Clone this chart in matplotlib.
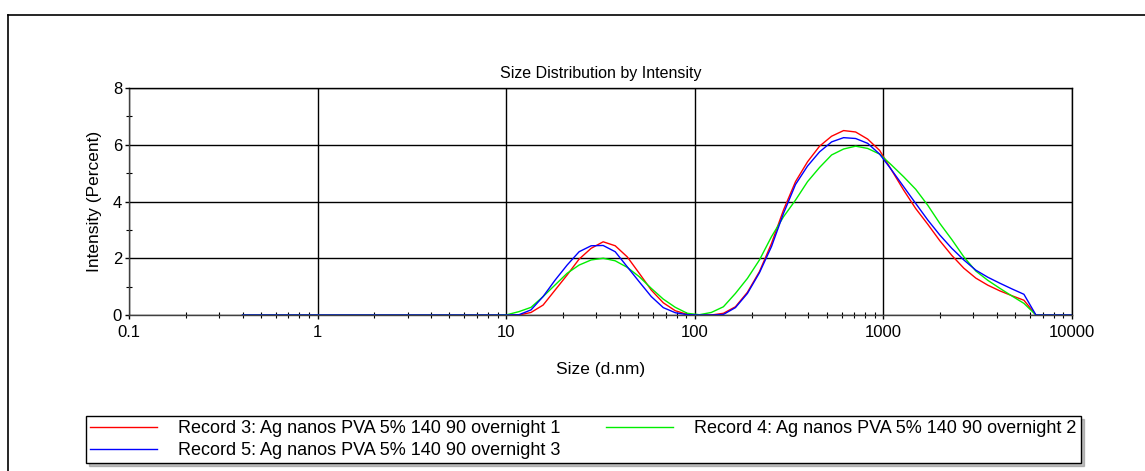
import numpy as np
import matplotlib
matplotlib.use("Agg")
import matplotlib.pyplot as plt
from matplotlib.lines import Line2D
from matplotlib.ticker import FixedLocator, FixedFormatter, NullFormatter

plt.rcParams['font.family'] = ['Liberation Sans', 'DejaVu Sans']

# size bins (d.nm)
sizes = [0.4, 0.4632, 0.5365, 0.6213, 0.7195, 0.8332, 0.9649, 1.117, 1.294, 1.499,
         1.736, 2.010, 2.328, 2.696, 3.122, 3.615, 4.187, 4.849, 5.615, 6.503,
         7.531, 8.721, 10.10, 11.70, 13.54, 15.69, 18.17, 21.04, 24.36, 28.21,
         32.67, 37.84, 43.82, 50.75, 58.77, 68.06, 78.82, 91.28, 105.7, 122.4,
         141.8, 164.2, 190.1, 220.2, 255.0, 295.3, 342.0, 396.1, 458.7, 531.2,
         615.1, 712.4, 825.0, 955.4, 1106, 1281, 1484, 1718, 1990, 2305,
         2669, 3091, 3580, 4145, 4801, 5560, 6439, 7456, 8635, 10000]

zeros22 = [0.0] * 22

rec3 = zeros22 + [0, 0, 0.09, 0.35, 0.88, 1.41, 1.97, 2.35, 2.58, 2.44,
                  2.05, 1.47, 0.88, 0.43, 0.15, 0.02, 0, 0, 0.06, 0.29,
                  0.80, 1.53, 2.52, 3.70, 4.70, 5.40, 5.95, 6.30, 6.50, 6.45,
                  6.20, 5.80, 5.10, 4.40, 3.75, 3.20, 2.62, 2.10, 1.65, 1.30,
                  1.05, 0.85, 0.68, 0.52, 0, 0, 0, 0]

rec4 = zeros22 + [0.01, 0.12, 0.27, 0.65, 1.06, 1.47, 1.76, 1.94, 2.00, 1.91,
                  1.68, 1.35, 0.94, 0.56, 0.27, 0.06, 0.01, 0.09, 0.29, 0.76,
                  1.29, 1.94, 2.76, 3.46, 4.05, 4.70, 5.20, 5.64, 5.85, 5.95,
                  5.87, 5.67, 5.28, 4.87, 4.43, 3.87, 3.23, 2.66, 2.05, 1.55,
                  1.22, 0.94, 0.67, 0.41, 0, 0, 0, 0]

rec5 = zeros22 + [0, 0.01, 0.18, 0.65, 1.23, 1.76, 2.23, 2.44, 2.45, 2.23,
                  1.70, 1.17, 0.65, 0.26, 0.08, 0.01, 0, 0, 0.02, 0.26,
                  0.76, 1.49, 2.41, 3.58, 4.60, 5.25, 5.75, 6.10, 6.25, 6.22,
                  6.05, 5.67, 5.11, 4.52, 3.93, 3.35, 2.82, 2.35, 1.94, 1.58,
                  1.33, 1.12, 0.92, 0.73, 0, 0, 0, 0]

labels = ["Record 3: Ag nanos PVA 5% 140 90 overnight 1",
          "Record 4: Ag nanos PVA 5% 140 90 overnight 2",
          "Record 5: Ag nanos PVA 5% 140 90 overnight 3"]
colors = ["#ff0000", "#00ee00", "#0000ff"]

xticks = [0.1, 1, 10, 100, 1000, 10000]
xticklabels = ["0.1", "1", "10", "100", "1000", "10000"]
yticks = [0, 2, 4, 6, 8]

W, H = 1145, 471
fig = plt.figure(figsize=(W / 100, H / 100), dpi=100)
fig.set_facecolor('w')

# outer frame
fig.add_artist(Line2D([8 / W, 1.0], [1 - 15 / H, 1 - 15 / H], color='k', lw=1.2))
fig.add_artist(Line2D([8 / W, 8 / W], [0, 1 - 15 / H], color='k', lw=1.2))

ax = fig.add_axes([129 / W, 1 - 315 / H, (1072 - 129) / W, (315 - 88) / H])

lines = []
for vals, c, lab in zip([rec3, rec4, rec5], colors, labels):
    ln, = ax.plot(sizes, vals, color=c, lw=1.0, label=lab)
    lines.append(ln)

ax.set_xscale('log')
ax.set_xlim(0.1, 10000)
ax.set_ylim(0, 8)
ax.xaxis.set_major_locator(FixedLocator(xticks))
ax.xaxis.set_major_formatter(FixedFormatter(xticklabels))
ax.xaxis.set_minor_locator(FixedLocator(
    [m * 10.0 ** e for e in range(-1, 4) for m in range(2, 10)]))
ax.xaxis.set_minor_formatter(NullFormatter())
ax.yaxis.set_major_locator(FixedLocator(yticks))
ax.yaxis.set_minor_locator(FixedLocator([1, 3, 5, 7]))

ax.grid(True, which='major', color='k', lw=1.0)
ax.set_axisbelow(True)
for s in ax.spines.values():
    s.set_color('k')
    s.set_linewidth(1.0)
ax.spines['bottom'].set_color('#404040')
ax.spines['left'].set_color('#404040')

ax.tick_params(which='major', direction='out', length=3, width=1, labelsize=12, pad=2)
ax.tick_params(axis='x', which='major', pad=4)
ax.tick_params(which='minor', direction='inout', length=5, width=0.8)

ax.set_title("Size Distribution by Intensity", fontsize=11.5, pad=7)
ax.set_xlabel("Size (d.nm)", fontsize=12.5, labelpad=16)
ax.set_ylabel("Intensity (Percent)", fontsize=12.5, labelpad=7.5)

leg = fig.legend([lines[0], lines[2], lines[1]], [labels[0], labels[2], labels[1]],
                 ncol=2, loc='upper left', bbox_to_anchor=(86 / W, 1 - 416 / H),
                 bbox_transform=fig.transFigure, borderaxespad=0, fontsize=13,
                 frameon=True, fancybox=False, edgecolor='k', framealpha=1,
                 shadow={'color': '#808080'}, handlelength=3.7, handletextpad=1.2,
                 columnspacing=2.5, labelspacing=0.3, borderpad=0.22)
leg.get_frame().set_linewidth(1.0)

fig.savefig("out.png", dpi=100)
